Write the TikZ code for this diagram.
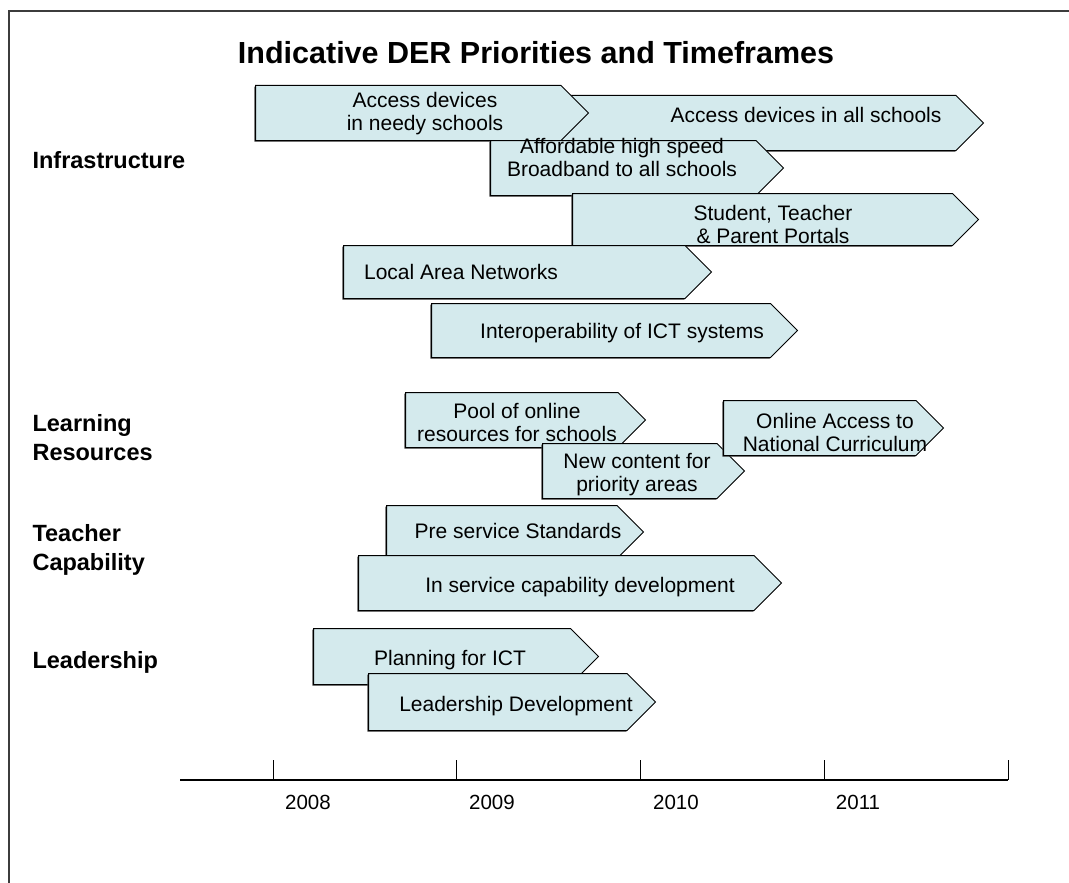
\documentclass[tikz,border=0pt]{standalone}
\usepackage{fontspec}
\setmainfont{Liberation Sans}
\usepackage{tikz}
\usetikzlibrary{shapes.symbols, shadows}
\usepackage{xcolor}
\definecolor{chevfill}{RGB}{212, 234, 237}
\definecolor{framegray}{RGB}{60, 60, 60}

\begin{document}
\begin{tikzpicture}[x=1pt, y=-1pt,
    chev/.style={draw=black, line width=1pt, fill=chevfill, signal, signal to=east,
        signal pointer angle=90, anchor=north west, inner sep=0pt,
        drop shadow={shadow xshift=-1.2pt, shadow yshift=-1.2pt, fill=black!75, opacity=1}},
    lbl/.style={font=\fontsize{21}{23}\selectfont, align=center},
    cat/.style={font=\bfseries\fontsize{23.5}{29}\selectfont, align=left, anchor=west},
    yr/.style={font=\fontsize{20.5}{24}\selectfont}]
    \useasboundingbox (0,0) rectangle (1069,883);
    \draw[framegray, line width=1.5pt] (9,883) -- (9,11) -- (1069,11);

    \node[font=\bfseries\fontsize{30.5}{36}\selectfont] (title) at (536,53) {Indicative DER Priorities and Timeframes};

    % categories
    \node[cat] (infra) at (29,160) {Infrastructure};
    \node[cat] (learn) at (29,438) {Learning\\Resources};
    \node[cat] (teach) at (29,550) {Teacher\\Capability};
    \node[cat] (lead) at (29,662) {Leadership};

    % infrastructure
    \node[chev, minimum width=438pt, minimum height=55pt] (allschools) at (545,95) {};
    \node[lbl] (allschoolstxt) at (806,115) {Access devices in all schools};
    \node[chev, minimum width=333pt, minimum height=55pt] (needy) at (255,85) {};
    \node[lbl] (needytxt) at (425,114) {Access devices\\in needy schools};
    \node[chev, minimum width=293pt, minimum height=55pt] (broadband) at (490,140) {};
    \node[lbl] (broadbandtxt) at (622,157) {Affordable high speed\\Broadband to all schools};
    \node[chev, minimum width=406pt, minimum height=52pt] (portals) at (572,193) {};
    \node[lbl] (portalstxt) at (773,224) {Student, Teacher\\\& Parent Portals};
    \node[chev, minimum width=368pt, minimum height=53pt] (lan) at (343,245) {};
    \node[lbl] (lantxt) at (461,272) {Local Area Networks};
    \node[chev, minimum width=366pt, minimum height=54pt] (interop) at (431,303) {};
    \node[lbl] (interoptxt) at (622,333) {Interoperability of ICT systems};

    % learning resources
    \node[chev, minimum width=240pt, minimum height=55pt] (pool) at (405,392) {};
    \node[lbl] (pooltxt) at (517,422) {Pool of online\\resources for schools};
    \node[chev, minimum width=202pt, minimum height=55pt] (content) at (542,443) {};
    \node[lbl] (contenttxt) at (637,475) {New content for\\priority areas};
    \node[chev, minimum width=220pt, minimum height=55pt] (curric) at (723,400) {};
    \node[lbl] (currictxt) at (835,432) {Online Access to\\National Curriculum};

    % teacher capability
    \node[chev, minimum width=257pt, minimum height=53pt] (preserv) at (386,505) {};
    \node[lbl] (preservtxt) at (518,531) {Pre service Standards};
    \node[chev, minimum width=423pt, minimum height=55pt] (inserv) at (358,555) {};
    \node[lbl] (inservtxt) at (580,587) {In service capability development};

    % leadership
    \node[chev, minimum width=285pt, minimum height=56pt] (plan) at (313,628) {};
    \node[lbl] (plantxt) at (450,660) {Planning for ICT};
    \node[chev, minimum width=287pt, minimum height=57pt] (leaddev) at (368,673) {};
    \node[lbl] (leaddevtxt) at (516,706) {Leadership Development};

    % time axis
    \draw[line width=1.5pt] (180,780) -- (1008,780);
    \foreach \x in {273,456,640,824,1008}
        \draw[line width=1pt] (\x,760) -- (\x,780);
    \foreach \x/\yrs in {308/2008,492/2009,676/2010,858/2011}
        \node[yr] (y\yrs) at (\x,802) {\yrs};
\end{tikzpicture}
\end{document}
